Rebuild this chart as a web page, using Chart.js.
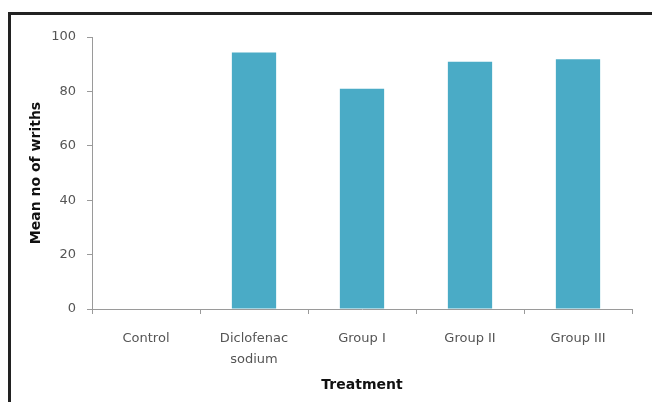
<!DOCTYPE html>
<html>
<head>
<meta charset="utf-8">
<script src="https://cdn.jsdelivr.net/npm/chart.js@4"></script>
<style>
  html, body { margin: 0; padding: 0; background: #fff; }
  .wrap { position: relative; width: 652px; height: 402px; overflow: hidden; }
  .frame { position: absolute; left: 8px; top: 12px; width: 660px; height: 420px;
           border-left: 3px solid #222; border-top: 3px solid #222; box-sizing: border-box; }
  canvas { position: absolute; left: 0; top: 0; }
</style>
</head>
<body>
<div class="wrap">
  <div class="frame"></div>
  <canvas id="chart" width="652" height="402"></canvas>
</div>
<script>
// data
const categories = ['Control', ['Diclofenac', 'sodium'], 'Group I', 'Group II', 'Group III'];
const meanWriths = [0, 94.3, 81, 90.9, 91.8];
const yTicks = [0, 20, 40, 60, 80, 100];

const axisGray = '#9a9a9a';
const labelGray = '#555';

const ctx = document.getElementById('chart').getContext('2d');

new Chart(ctx, {
  type: 'bar',
  data: {
    labels: categories,
    datasets: [{
      data: meanWriths,
      backgroundColor: '#4aabc6',
      borderWidth: 0,
      barPercentage: 0.82,
      categoryPercentage: 0.5
    }]
  },
  options: {
    responsive: false,
    animation: false,
    layout: { padding: { top: 37, right: 20, left: 0, bottom: 0 } },
    plugins: { legend: { display: false }, tooltip: { enabled: false } },
    scales: {
      x: {
        grid: { display: true, drawOnChartArea: false, drawTicks: true, tickLength: 5, color: axisGray },
        border: { color: axisGray, width: 1 },
        ticks: {
          color: labelGray,
          font: { family: 'DejaVu Sans', size: 13, lineHeight: 1.6 },
          padding: 14,
          maxRotation: 0
        },
        title: {
          display: true,
          text: 'Treatment',
          color: '#111',
          font: { family: 'DejaVu Sans', size: 14, weight: 'bold' },
          padding: { top: 0, bottom: 8 }
        },
        afterFit: (scale) => { scale.height = 93; }
      },
      y: {
        min: 0,
        max: 100,
        afterBuildTicks: (scale) => { scale.ticks = yTicks.map(v => ({ value: v })); },
        grid: { display: true, drawOnChartArea: false, drawTicks: true, tickLength: 5, color: axisGray },
        border: { color: axisGray, width: 1 },
        ticks: {
          color: labelGray,
          font: { family: 'DejaVu Sans', size: 13 },
          padding: 11
        },
        title: {
          display: true,
          text: 'Mean no of wriths',
          color: '#111',
          font: { family: 'DejaVu Sans', size: 14, weight: 'bold' },
          padding: { top: 28, bottom: 0 }
        },
        afterFit: (scale) => { scale.width = 92; }
      }
    }
  }
});
</script>
</body>
</html>
